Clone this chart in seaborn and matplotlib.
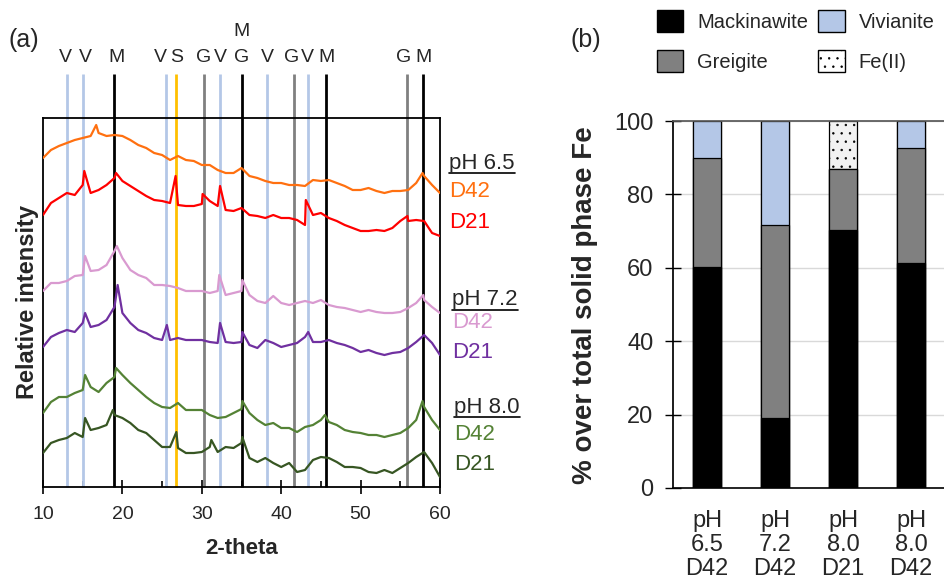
import numpy as np
import pandas as pd
import matplotlib.pyplot as plt
from matplotlib.patches import Patch
from matplotlib.lines import Line2D
from matplotlib.ticker import MultipleLocator
import seaborn as sns

sns.set_theme(style='white')
plt.rcParams['font.family'] = ['Liberation Sans', 'DejaVu Sans']
plt.rcParams['hatch.linewidth'] = 0.5

# ---- panel (a): XRD patterns, read at 1 degree steps plus the visible peaks
two_theta = list(range(10, 61))

ph65_d42 = [329, 337, 341, 344, 347, 349, 351, 354, 351, 352,
            351, 347, 342, 339, 334, 332, 327, 331, 327, 326,
            322, 322, 317, 314, 314, 319, 311, 309, 306, 304,
            304, 302, 302, 301, 307, 306, 307, 304, 301, 297,
            297, 299, 296, 294, 296, 296, 297, 304, 311, 302,
            294]
ph65_d42_peak_x = [16.7, 57.8]
ph65_d42_peak_y = [362, 314]

ph65_d21 = [272, 284, 289, 294, 292, 302, 294, 297, 302, 309,
            306, 301, 296, 291, 287, 286, 284, 282, 281, 281,
            283, 286, 281, 277, 276, 279, 272, 271, 269, 272,
            269, 269, 267, 262, 272, 274, 269, 266, 262, 259,
            256, 256, 257, 256, 259, 266, 266, 267, 266, 254,
            251]
ph65_d21_peak_x = [15.2, 19.2, 26.7, 30.1, 32.3, 43.1, 55.9]
ph65_d21_peak_y = [316, 314, 311, 293, 301, 287, 271]

ph72_d42 = [196, 204, 204, 206, 211, 212, 216, 217, 222, 236,
            229, 217, 212, 209, 202, 202, 201, 199, 196, 196,
            196, 194, 196, 192, 194, 196, 192, 186, 184, 191,
            184, 182, 184, 186, 184, 187, 182, 180, 179, 177,
            175, 177, 175, 174, 174, 175, 179, 184, 187, 180,
            174]
ph72_d42_peak_x = [15.3, 19.3, 32.2, 35.1, 57.9]
ph72_d42_peak_y = [231, 241, 212, 207, 192]

ph72_d21 = [140, 150, 154, 157, 155, 164, 160, 162, 167, 180,
            174, 164, 157, 154, 149, 147, 147, 149, 147, 147,
            147, 145, 144, 145, 144, 145, 142, 139, 147, 144,
            140, 142, 144, 150, 145, 145, 147, 144, 142, 139,
            135, 137, 134, 132, 134, 135, 139, 145, 152, 144,
            132]
ph72_d21_peak_x = [15.3, 19.4, 25.6, 32.3, 35.1, 43.4]
ph72_d21_peak_y = [174, 202, 162, 164, 155, 155]

ph80_d42 = [74, 85, 90, 90, 94, 97, 100, 95, 104, 110,
            112, 104, 97, 90, 84, 80, 79, 84, 77, 77,
            77, 72, 69, 70, 74, 78, 74, 67, 62, 64,
            59, 59, 55, 60, 62, 67, 65, 62, 57, 55,
            54, 52, 52, 50, 52, 54, 59, 67, 80, 67,
            57]
ph80_d42_peak_x = [15.3, 19.2, 35.1, 45.5, 57.8]
ph80_d42_peak_y = [112, 119, 86, 72, 86]

ph80_d21 = [34, 44, 47, 49, 54, 50, 57, 59, 62, 72,
            69, 64, 57, 54, 47, 40, 40, 39, 34, 34,
            35, 40, 35, 40, 39, 44, 29, 25, 29, 24,
            20, 24, 15, 17, 27, 30, 29, 25, 20, 20,
            19, 15, 14, 17, 14, 19, 24, 30, 35, 24,
            10]
ph80_d21_peak_x = [15.3, 18.8, 26.8, 31.2, 35.1]
ph80_d21_peak_y = [69, 77, 55, 47, 50]

trace_colors = {
    'pH 6.5 D42': '#FF7010',
    'pH 6.5 D21': '#FF0000',
    'pH 7.2 D42': '#D99AD0',
    'pH 7.2 D21': '#7030A0',
    'pH 8.0 D42': '#548235',
    'pH 8.0 D21': '#375623',
}

# reference lines for the phases
ref_pos = [13.0, 15.1, 19.0, 25.5, 26.75, 30.3, 32.3, 35.0, 38.2, 41.6, 43.4, 45.7, 55.8, 57.9]
ref_color_of = ['#B4C7E7', '#B4C7E7', 'black', '#B4C7E7', '#FFC000', '#808080', '#B4C7E7',
                'black', '#B4C7E7', '#808080', '#B4C7E7', 'black', '#808080', 'black']
ref_label = ['V', 'V', 'M', 'V', 'S', 'G', 'V', 'G', 'V', 'G', 'V', 'M', 'G', 'M']
ref_label_x = [12.8, 15.4, 19.3, 24.8, 26.8, 30.2, 32.3, 35.0, 38.25, 41.3, 43.3, 45.7, 55.4, 57.9]

# ---- panel (b): phase fractions
samples = ['pH\n6.5\nD42', 'pH\n7.2\nD42', 'pH\n8.0\nD21', 'pH\n8.0\nD42']
mackinawite = [60.3, 19.0, 70.3, 61.2]
greigite = [29.6, 52.6, 16.7, 31.5]
vivianite = [10.1, 28.4, 0.0, 7.3]
fe2 = [0.0, 0.0, 13.0, 0.0]

fig = plt.figure(figsize=(9.44, 5.85), dpi=100)
W, H = 944, 585

def fx(px):
    return px / W

def fy(py):
    return 1 - py / H

ax_a = fig.add_axes([fx(43), fy(487), (440 - 43) / W, (487 - 118) / H])
ax_b = fig.add_axes([fx(673), fy(488), (945 - 673) / W, (488 - 121) / H])

# traces
traces = [
    ('pH 6.5 D42', ph65_d42, ph65_d42_peak_x, ph65_d42_peak_y),
    ('pH 6.5 D21', ph65_d21, ph65_d21_peak_x, ph65_d21_peak_y),
    ('pH 7.2 D42', ph72_d42, ph72_d42_peak_x, ph72_d42_peak_y),
    ('pH 7.2 D21', ph72_d21, ph72_d21_peak_x, ph72_d21_peak_y),
    ('pH 8.0 D42', ph80_d42, ph80_d42_peak_x, ph80_d42_peak_y),
    ('pH 8.0 D21', ph80_d21, ph80_d21_peak_x, ph80_d21_peak_y),
]
frames = []
for name, vals, pk_x, pk_y in traces:
    frames.append(pd.DataFrame({'two_theta': two_theta + pk_x,
                                'intensity': vals + pk_y,
                                'sample': name}))
xrd = pd.concat(frames, ignore_index=True)

ax_a.vlines(ref_pos, 0, 413, colors=ref_color_of, lw=2, clip_on=False, zorder=1)
for x, lab in zip(ref_label_x, ref_label):
    ax_a.text(x, 430, lab, ha='center', va='center', fontsize=14, clip_on=False)
ax_a.text(35.0, 455, 'M', ha='center', va='center', fontsize=14, clip_on=False)

sns.lineplot(data=xrd, x='two_theta', y='intensity', hue='sample', palette=trace_colors,
             lw=1.6, legend=False, ax=ax_a, zorder=3, estimator=None)

ax_a.set_xlim(10, 60)
ax_a.set_ylim(0, 369)
ax_a.set_yticks([])
ax_a.set_xticks([10, 20, 30, 40, 50, 60])
ax_a.xaxis.set_minor_locator(MultipleLocator(5))
ax_a.tick_params(axis='x', which='major', direction='inout', length=10, width=1.2,
                 color='black', labelsize=14, pad=9, bottom=True)
ax_a.tick_params(axis='x', which='minor', direction='in', length=4, width=1.2,
                 color='black', bottom=True)
ax_a.set_xlabel('')
ax_a.set_ylabel('')
for sp in ax_a.spines.values():
    sp.set_color('black')
    sp.set_linewidth(1.3)

fig.text(fx(242), fy(548), '2-theta', ha='center', va='center', fontsize=16, fontweight='bold')
fig.text(fx(28), fy(302), 'Relative intensity', ha='center', va='center', rotation=90,
         fontsize=17, fontweight='bold')
fig.text(fx(8), fy(40), '(a)', ha='left', va='center', fontsize=18)
fig.text(fx(570), fy(40), '(b)', ha='left', va='center', fontsize=18)

# sample labels on the right of panel (a)
group_labels = [('pH 6.5', 449, 164), ('pH 7.2', 452, 300), ('pH 8.0', 454, 407)]
sub_labels = [('D42', 449, 192, 'pH 6.5 D42'), ('D21', 449, 222, 'pH 6.5 D21'),
              ('D42', 452, 322, 'pH 7.2 D42'), ('D21', 452, 352, 'pH 7.2 D21'),
              ('D42', 454, 435, 'pH 8.0 D42'), ('D21', 454, 465, 'pH 8.0 D21')]
group_texts = []
for lab, x, y in group_labels:
    group_texts.append(fig.text(fx(x), fy(y), lab, ha='left', va='center', fontsize=16))
for lab, x, y, key in sub_labels:
    fig.text(fx(x), fy(y), lab, ha='left', va='center', fontsize=16, color=trace_colors[key])

# stacked bars (drawn as cumulative layers, top layer first)
cum = np.cumsum(np.array([mackinawite, greigite, vivianite, fe2]), axis=0)
layers = [('Fe(II)', cum[3], '#F2F2F2'), ('Vivianite', cum[2], '#B4C7E7'),
          ('Greigite', cum[1], '#808080'), ('Mackinawite', cum[0], 'black')]
for name, tops, col in layers:
    df = pd.DataFrame({'sample': samples, 'value': tops})
    sns.barplot(data=df, x='sample', y='value', color=col, saturation=1, width=0.41,
                edgecolor='black', linewidth=0.9, ax=ax_b, zorder=2)
    if name == 'Fe(II)':
        for p in ax_b.containers[-1]:
            p.set_hatch('..')

ax_b.set_xlim(-0.5, 3.5)
ax_b.set_ylim(0, 100)
ax_b.set_yticks([0, 20, 40, 60, 80, 100])
ax_b.yaxis.grid(True, color='#D9D9D9', lw=1)
ax_b.set_axisbelow(True)
ax_b.set_xlabel('')
ax_b.set_ylabel('')
ax_b.tick_params(axis='y', direction='inout', length=12, width=1, color='black',
                 labelsize=17, pad=8, left=True)
ax_b.tick_params(axis='x', length=0, labelsize=17, pad=16)
for lbl in ax_b.get_xticklabels():
    lbl.set_linespacing(1.1)
ax_b.spines['right'].set_visible(False)
ax_b.spines['top'].set_color('#595959')
ax_b.spines['left'].set_color('black')
ax_b.spines['bottom'].set_color('black')
ax_b.spines['bottom'].set_linewidth(1.2)
fig.text(fx(585), fy(305), '% over total solid phase Fe', ha='center', va='center',
         rotation=90, fontsize=20, fontweight='bold')

handles = [Patch(facecolor='black', edgecolor='black', label='Mackinawite'),
           Patch(facecolor='#808080', edgecolor='black', label='Greigite'),
           Patch(facecolor='#B4C7E7', edgecolor='black', label='Vivianite'),
           Patch(facecolor='white', edgecolor='black', hatch='..', label='Fe(II)')]
fig.legend(handles=handles, ncol=2, loc='upper left', bbox_to_anchor=(fx(657), fy(10)),
           frameon=False, fontsize=14.5, handlelength=1.3, handleheight=1.3,
           handletextpad=0.7, columnspacing=0.5, labelspacing=0.9, borderpad=0,
           borderaxespad=0)

# underline the pH group labels
fig.canvas.draw()
renderer = fig.canvas.get_renderer()
for t in group_texts:
    bb = t.get_window_extent(renderer)
    y = (bb.y0 + 1) / H
    fig.add_artist(Line2D([bb.x0 / W, bb.x1 / W], [y, y], color='black', lw=1.2))

fig.savefig('out.png', dpi=100)
